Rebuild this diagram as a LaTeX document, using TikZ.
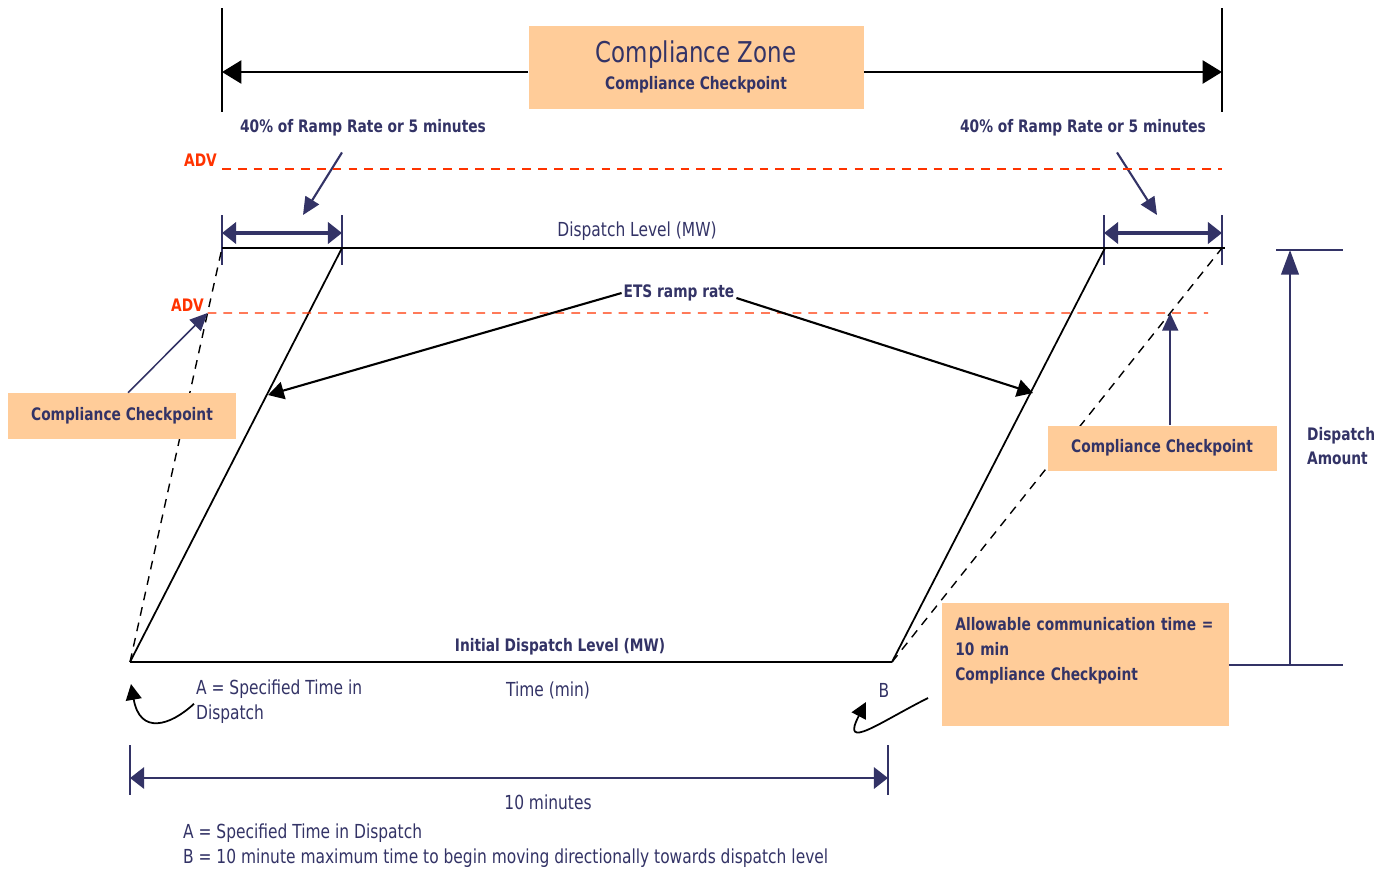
\documentclass[tikz,border=0pt]{standalone}
\usepackage{fontspec}
\setmainfont[FakeStretch=0.8]{DejaVu Sans}
\usepackage{xcolor}
\usetikzlibrary{arrows.meta,positioning,calc}
\definecolor{navy}{RGB}{51,51,102}
\definecolor{peach}{RGB}{255,204,153}
\definecolor{advred}{RGB}{255,51,0}
\begin{document}
\begin{tikzpicture}[
  x=0.02cm, y=-0.02cm,
  lbl/.style={text=navy, inner sep=1pt, font=\fontsize{11}{14}\selectfont},
  blbl/.style={lbl, font=\fontsize{9.8}{14}\selectfont\bfseries},
  box/.style={fill=peach, text=navy, inner sep=0pt, align=center},
  arr/.style={-{Triangle[length=9pt, width=10pt]}, line width=1.2pt},
  narr/.style={-{Triangle[length=10pt, width=9pt]}, navy, line width=1.2pt},
  dim/.style={{Triangle[length=8pt, width=12pt]}-{Triangle[length=8pt, width=12pt]}, navy, line width=2pt},
  tick/.style={navy, line width=0.6pt},
  adv/.style={advred, line width=0.8pt, dash pattern=on 5pt off 4pt},
  ramp/.style={line width=1pt},
  dramp/.style={line width=0.8pt, dash pattern=on 5pt off 4pt}
]
\useasboundingbox[fill=white] (0,0) rectangle (1388,873);

% corner points
\coordinate (A) at (130,662);
\coordinate (B) at (892,662);
\coordinate (L1) at (222,248);
\coordinate (L2) at (342,248);
\coordinate (R1) at (1105,248);
\coordinate (R2) at (1222,248);
\coordinate (topend) at (1225,248);

% compliance zone
\node[box, minimum width=335*0.02cm, minimum height=83*0.02cm] (zone) at (696,67)
  {{\fontsize{16.3}{18}\selectfont Compliance Zone}\\[3pt]{\fontsize{9.8}{12}\selectfont\bfseries Compliance Checkpoint}};
\coordinate (zl) at (222,72);
\coordinate (zr) at (1222,72);
\draw[line width=0.6pt] (222,8) -- (222,112);
\draw[line width=0.6pt] (1222,8) -- (1222,112);
\draw[arr, line width=1.6pt, -{Triangle[length=11pt, width=13pt]}] (zone.west |- zl) -- (zl);
\draw[arr, line width=1.6pt, -{Triangle[length=11pt, width=13pt]}] (zone.east |- zr) -- (zr);

% ramp percentage
\node[blbl] (pctL) at (363,128) {40\% of Ramp Rate or 5 minutes};
\node[blbl] (pctR) at (1083,128) {40\% of Ramp Rate or 5 minutes};
\coordinate (pctLtip) at (303,215);
\coordinate (pctRtip) at (1157,215);
\draw[narr] ([xshift=-21*0.02cm, yshift=-14*0.02cm]pctL.south) -- (pctLtip);
\draw[narr] ([xshift=34*0.02cm, yshift=-14*0.02cm]pctR.south) -- (pctRtip);

% upper ADV
\node[text=advred, inner sep=1pt, font=\fontsize{9.8}{12}\selectfont\bfseries, anchor=east] (adv1) at (219,160) {ADV};
\draw[adv] (222,169) -- (1222,169);

% 40% widths
\draw[tick] (222,215) -- (222,265);
\draw[tick] (342,215) -- (342,265);
\draw[tick] (1104,215) -- (1104,265);
\draw[tick] (1222,215) -- (1222,265);
\draw[dim] (222,233) -- (342,233);
\draw[dim] (1104,233) -- (1222,233);

% dispatch level and ramps
\draw[ramp] (L1) -- (topend);
\node[lbl] (dlev) at (637,231) {Dispatch Level (MW)};
\draw[ramp] (A) -- (B);
\node[blbl] (ilev) at (560,647) {Initial Dispatch Level (MW)};
\draw[ramp] (A) -- (L2);
\draw[ramp] (B) -- (R1);
\draw[dramp] (A) -- (L1);
\draw[dramp] (B) -- (R2);

% lower ADV
\node[text=advred, inner sep=1pt, font=\fontsize{9.8}{12}\selectfont\bfseries, anchor=east] (adv2) at (206,305) {ADV};
\coordinate (cpL) at ($(A)!0.843!(L1)$);
\coordinate (cpR) at ($(B)!0.843!(R2)$);
\draw[adv] (cpL) -- (1208,313);

% ETS ramp rate
\node[blbl] (ets) at (679,293) {ETS ramp rate};
\coordinate (etsL) at (268,395);
\coordinate (etsR) at (1033,393);
\draw[arr] (ets.west) -- (etsL);
\draw[arr] ([yshift=-5*0.02cm]ets.east) -- (etsR);

% compliance checkpoints
\node[box, minimum width=228*0.02cm, minimum height=46*0.02cm, font=\fontsize{9.8}{12}\selectfont\bfseries] (cpboxL) at (122,416) {Compliance Checkpoint};
\draw[narr, line width=0.9pt] ([xshift=6*0.02cm]cpboxL.north) -- (cpL);
\node[box, minimum width=229*0.02cm, minimum height=45*0.02cm, font=\fontsize{9.8}{12}\selectfont\bfseries] (cpboxR) at (1162,448) {Compliance Checkpoint};
\draw[narr] (cpboxR.north -| cpR) -- (cpR);

% dispatch amount
\coordinate (datop) at (1290,250);
\coordinate (dabot) at (1290,665);
\draw[tick, line width=1pt] (1276,250) -- (1343,250);
\draw[tick, line width=1pt] (1215,665) -- (1343,665);
\draw[-{Triangle[length=14pt, width=10pt]}, navy, line width=1.2pt] (dabot) -- (datop);
\node[blbl, align=left, anchor=west] (damt) at (1305,446) {Dispatch\\Amount};

% allowable communication time
\node[box, align=left, anchor=north west, inner xsep=13*0.02cm, inner ysep=12*0.02cm,
  minimum width=287*0.02cm, minimum height=123*0.02cm, text width=261*0.02cm,
  font=\fontsize{9.8}{14.2}\selectfont\bfseries] (allow) at (942,603)
  {Allowable communication time =\\10 min\\Compliance Checkpoint\\ \strut};

% A and B markers
\node[lbl, align=left, anchor=north west] (labA) at (194,678) {A = Specified Time in\\Dispatch};
\node[lbl] (tmin) at (548,690) {Time (min)};
\node[lbl] (labB) at (884,690) {B};
\coordinate (Aend) at (131,684);
\coordinate (Bend) at (866,702);
\draw[-{Triangle[length=9pt, width=9pt]}, line width=1pt] ([yshift=-2*0.02cm]labA.west) .. controls (170,726) and (140,735) .. (Aend);
\coordinate (Bstart) at (928,698);
\draw[-{Triangle[length=9pt, width=9pt]}, line width=1pt] (Bstart) .. controls (880,722) and (840,752) .. (Bend);

% ten minutes
\draw[tick] (130,745) -- (130,795);
\draw[tick] (888,745) -- (888,795);
\draw[dim, line width=1.6pt] (130,778) -- (888,778);
\node[lbl] (tenmin) at (548,802) {10 minutes};

% legend
\node[lbl, align=left, anchor=north west] (legend) at (181,822)
  {A = Specified Time in Dispatch\\B = 10 minute maximum time to begin moving directionally towards dispatch level};
\end{tikzpicture}
\end{document}
